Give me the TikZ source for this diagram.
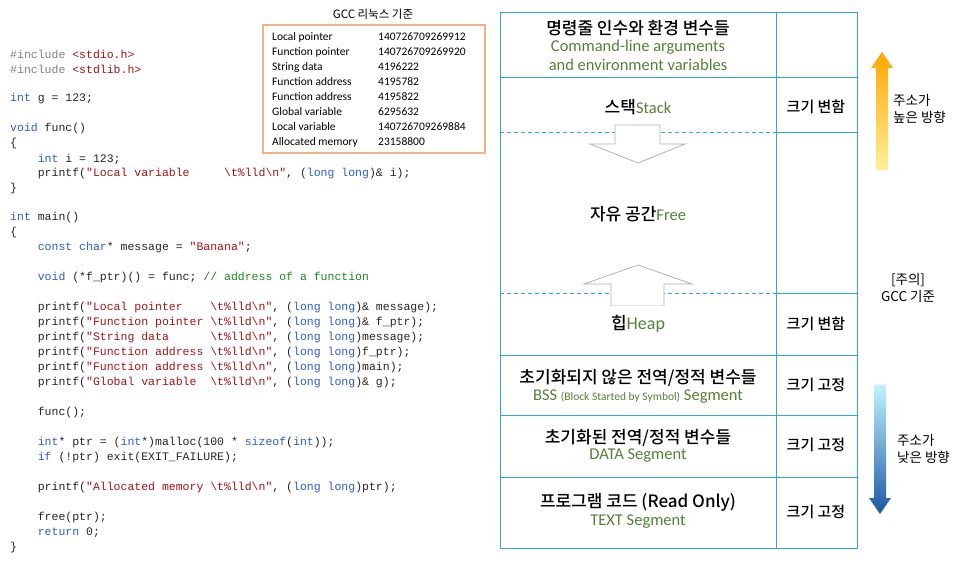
\documentclass[tikz,border=0pt]{standalone}
\usepackage{fontspec}
\setmainfont{Carlito}
\setmonofont{Liberation Mono}
\newfontfamily\kr{Noto Sans CJK KR Medium}
\newfontfamily\krl{Noto Sans CJK KR}
\definecolor{kwc}{HTML}{2B5CD0}
\definecolor{strc}{HTML}{A31515}
\definecolor{cmc}{HTML}{1E8A1E}
\definecolor{ppc}{HTML}{808080}
\definecolor{grn}{HTML}{548235}
\definecolor{tblue}{HTML}{2EA8DC}
\definecolor{obox}{HTML}{F4B183}
\newcommand{\kw}[1]{\textcolor{kwc}{#1}}
\newcommand{\st}[1]{\textcolor{strc}{#1}}
\newcommand{\bs}{\textbackslash}
\begin{document}
\begin{tikzpicture}[x=1pt,y=-1pt,
  code/.style={anchor=west,inner sep=0,font=\ttfamily\fontsize{11.5}{13}\selectfont,text=black!85},
  tbl/.style={anchor=west,inner sep=0,font=\fontsize{11.5}{13}\selectfont},
  krt/.style={font=\kr\fontsize{17}{20}\selectfont,inner sep=0},
  gt/.style={font=\fontsize{16.5}{18}\selectfont,text=grn,inner sep=0},
  sz/.style={font=\kr\fontsize{15}{18}\selectfont,inner sep=0},
  side/.style={font=\krl\fontsize{13.5}{17}\selectfont,inner sep=0,align=left}]
\useasboundingbox (0,0) rectangle (966,564);
\fill[white] (0,0) rectangle (966,564);
% code
\node[code] (c1) at (10,54) {\textcolor{ppc}{\#include} \st{<stdio.h>}};
\node[code] (c2) at (10,69) {\textcolor{ppc}{\#include} \st{<stdlib.h>}};
\node[code] (c3) at (10,99) {\kw{int} g = 123;};
\node[code] (c4) at (10,129) {\kw{void} func()};
\node[code] (c5) at (10,144) {\{};
\node[code] (c6) at (10,159) {~~~~\kw{int} i = 123;};
\node[code] (c7) at (10,174) {~~~~printf(\st{"Local variable~~~~~\bs t\%lld\bs n"}, (\kw{long long})\& i);};
\node[code] (c8) at (10,189) {\}};
\node[code] (c9) at (10,218) {\kw{int} main()};
\node[code] (c10) at (10,233) {\{};
\node[code] (c11) at (10,248) {~~~~\kw{const char}* message = \st{"Banana"};};
\node[code] (c12) at (10,278) {~~~~\kw{void} (*f\_ptr)() = func; \textcolor{cmc}{// address of a function}};
\node[code] (c13) at (10,308) {~~~~printf(\st{"Local pointer~~~~\bs t\%lld\bs n"}, (\kw{long long})\& message);};
\node[code] (c14) at (10,323) {~~~~printf(\st{"Function pointer~\bs t\%lld\bs n"}, (\kw{long long})\& f\_ptr);};
\node[code] (c15) at (10,338) {~~~~printf(\st{"String data~~~~~~\bs t\%lld\bs n"}, (\kw{long long})message);};
\node[code] (c16) at (10,353) {~~~~printf(\st{"Function address~\bs t\%lld\bs n"}, (\kw{long long})f\_ptr);};
\node[code] (c17) at (10,368) {~~~~printf(\st{"Function address~\bs t\%lld\bs n"}, (\kw{long long})main);};
\node[code] (c18) at (10,383) {~~~~printf(\st{"Global variable~~\bs t\%lld\bs n"}, (\kw{long long})\& g);};
\node[code] (c19) at (10,413) {~~~~func();};
\node[code] (c20) at (10,443) {~~~~\kw{int}* ptr = (\kw{int}*)malloc(100 * \kw{sizeof}(\kw{int}));};
\node[code] (c21) at (10,458) {~~~~\kw{if} (!ptr) exit(EXIT\_FAILURE);};
\node[code] (c22) at (10,488) {~~~~printf(\st{"Allocated memory~\bs t\%lld\bs n"}, (\kw{long long})ptr);};
\node[code] (c23) at (10,518) {~~~~free(ptr);};
\node[code] (c24) at (10,533) {~~~~\kw{return} 0;};
\node[code] (c25) at (10,548) {\}};
% output box
\node[font=\krl\fontsize{11.5}{13}\selectfont] (gt) at (373,14) {GCC 리눅스 기준};
\draw[obox,line width=1.2pt] (263,25) rectangle (485,153);
\foreach \l/\v [count=\i from 0] in {Local pointer/140726709269912,Function pointer/140726709269920,String data/4196222,Function address/4195782,Function address/4195822,Global variable/6295632,Local variable/140726709269884,Allocated memory/23158800}{
  \node[tbl] (l\i) at (272,37+15*\i) {\l};
  \node[tbl] (v\i) at (378,37+15*\i) {\v};
}
% memory table
\begin{scope}[tblue,line width=1pt]
\draw (500,13) rectangle (857,548);
\draw (776,13) -- (776,548);
\foreach \y in {78,133,293,355,415,477} \draw (776,\y) -- (857,\y);
\foreach \y in {78,355,415,477} \draw (500,\y) -- (776,\y);
\draw[dashed,dash pattern=on 4pt off 3pt] (500,133) -- (776,133);
\draw[dashed,dash pattern=on 4pt off 3pt] (500,293) -- (776,293);
\end{scope}
% hollow arrows
\draw[gray!60,fill=white,line width=0.8pt] (615,125) -- (660,125) -- (660,144) -- (685,144) -- (638,163) -- (590,144) -- (615,144) -- cycle;
\draw[gray!60,fill=white,line width=0.8pt] (611,306) -- (664,306) -- (664,284) -- (692,284) -- (638,265) -- (584,284) -- (611,284) -- cycle;
\fill[white] (500.5,306.4) rectangle (775.5,320);
\node[krt] (r1) at (638,28) {명령줄 인수와 환경 변수들};
\node[gt] (r1a) at (638,47) {Command-line arguments};
\node[gt] (r1b) at (638,65) {and environment variables};
\node[inner sep=0] (r2) at (638,107) {{\kr\fontsize{17}{20}\selectfont 스택}{\fontsize{16.5}{18}\selectfont\color{grn}Stack}};
\node[inner sep=0] (r3) at (638,214) {{\kr\fontsize{17}{20}\selectfont 자유 공간}{\fontsize{16.5}{18}\selectfont\color{grn}Free}};
\node[inner sep=0] (r4) at (638,324) {{\kr\fontsize{17}{20}\selectfont 힙}{\fontsize{18}{20}\selectfont\color{grn}Heap}};
\node[krt] (r5) at (638,378) {초기화되지 않은 전역/정적 변수들};
\node[gt] (r5a) at (638,397) {BSS {\fontsize{11.5}{13}\selectfont(Block Started by Symbol)} Segment};
\node[krt] (r6) at (638,438) {초기화된 전역/정적 변수들};
\node[gt] (r6a) at (638,456) {DATA Segment};
\node[inner sep=0] (r7) at (638,502) {{\kr\fontsize{17}{20}\selectfont 프로그램 코드 (Read Only)}};
\node[gt] (r7a) at (638,522) {TEXT Segment};
\node[sz] (s1) at (816,107) {크기 변함};
\node[sz] (s2) at (816,324) {크기 변함};
\node[sz] (s3) at (816,385) {크기 고정};
\node[sz] (s4) at (816,445) {크기 고정};
\node[sz] (s5) at (816,512) {크기 고정};
% direction arrows
\shade[top color=orange!70!yellow,bottom color=orange!30!yellow!40] (876,68) -- (871,68) -- (882,52) -- (893,68) -- (888,68) -- (888,170) -- (876,170) -- cycle;
\shade[top color=blue!20!cyan!25,bottom color=blue!55!cyan!60!black!90] (874,385) -- (886,385) -- (886,498) -- (891,498) -- (880,514) -- (869,498) -- (874,498) -- cycle;
\node[side,anchor=west] (h1) at (893,109) {주소가\\높은 방향};
\node[side,align=center] (h2) at (908,288) {[주의]\\GCC 기준};
\node[side,anchor=west] (h3) at (897,449) {주소가\\낮은 방향};
\end{tikzpicture}
\end{document}
